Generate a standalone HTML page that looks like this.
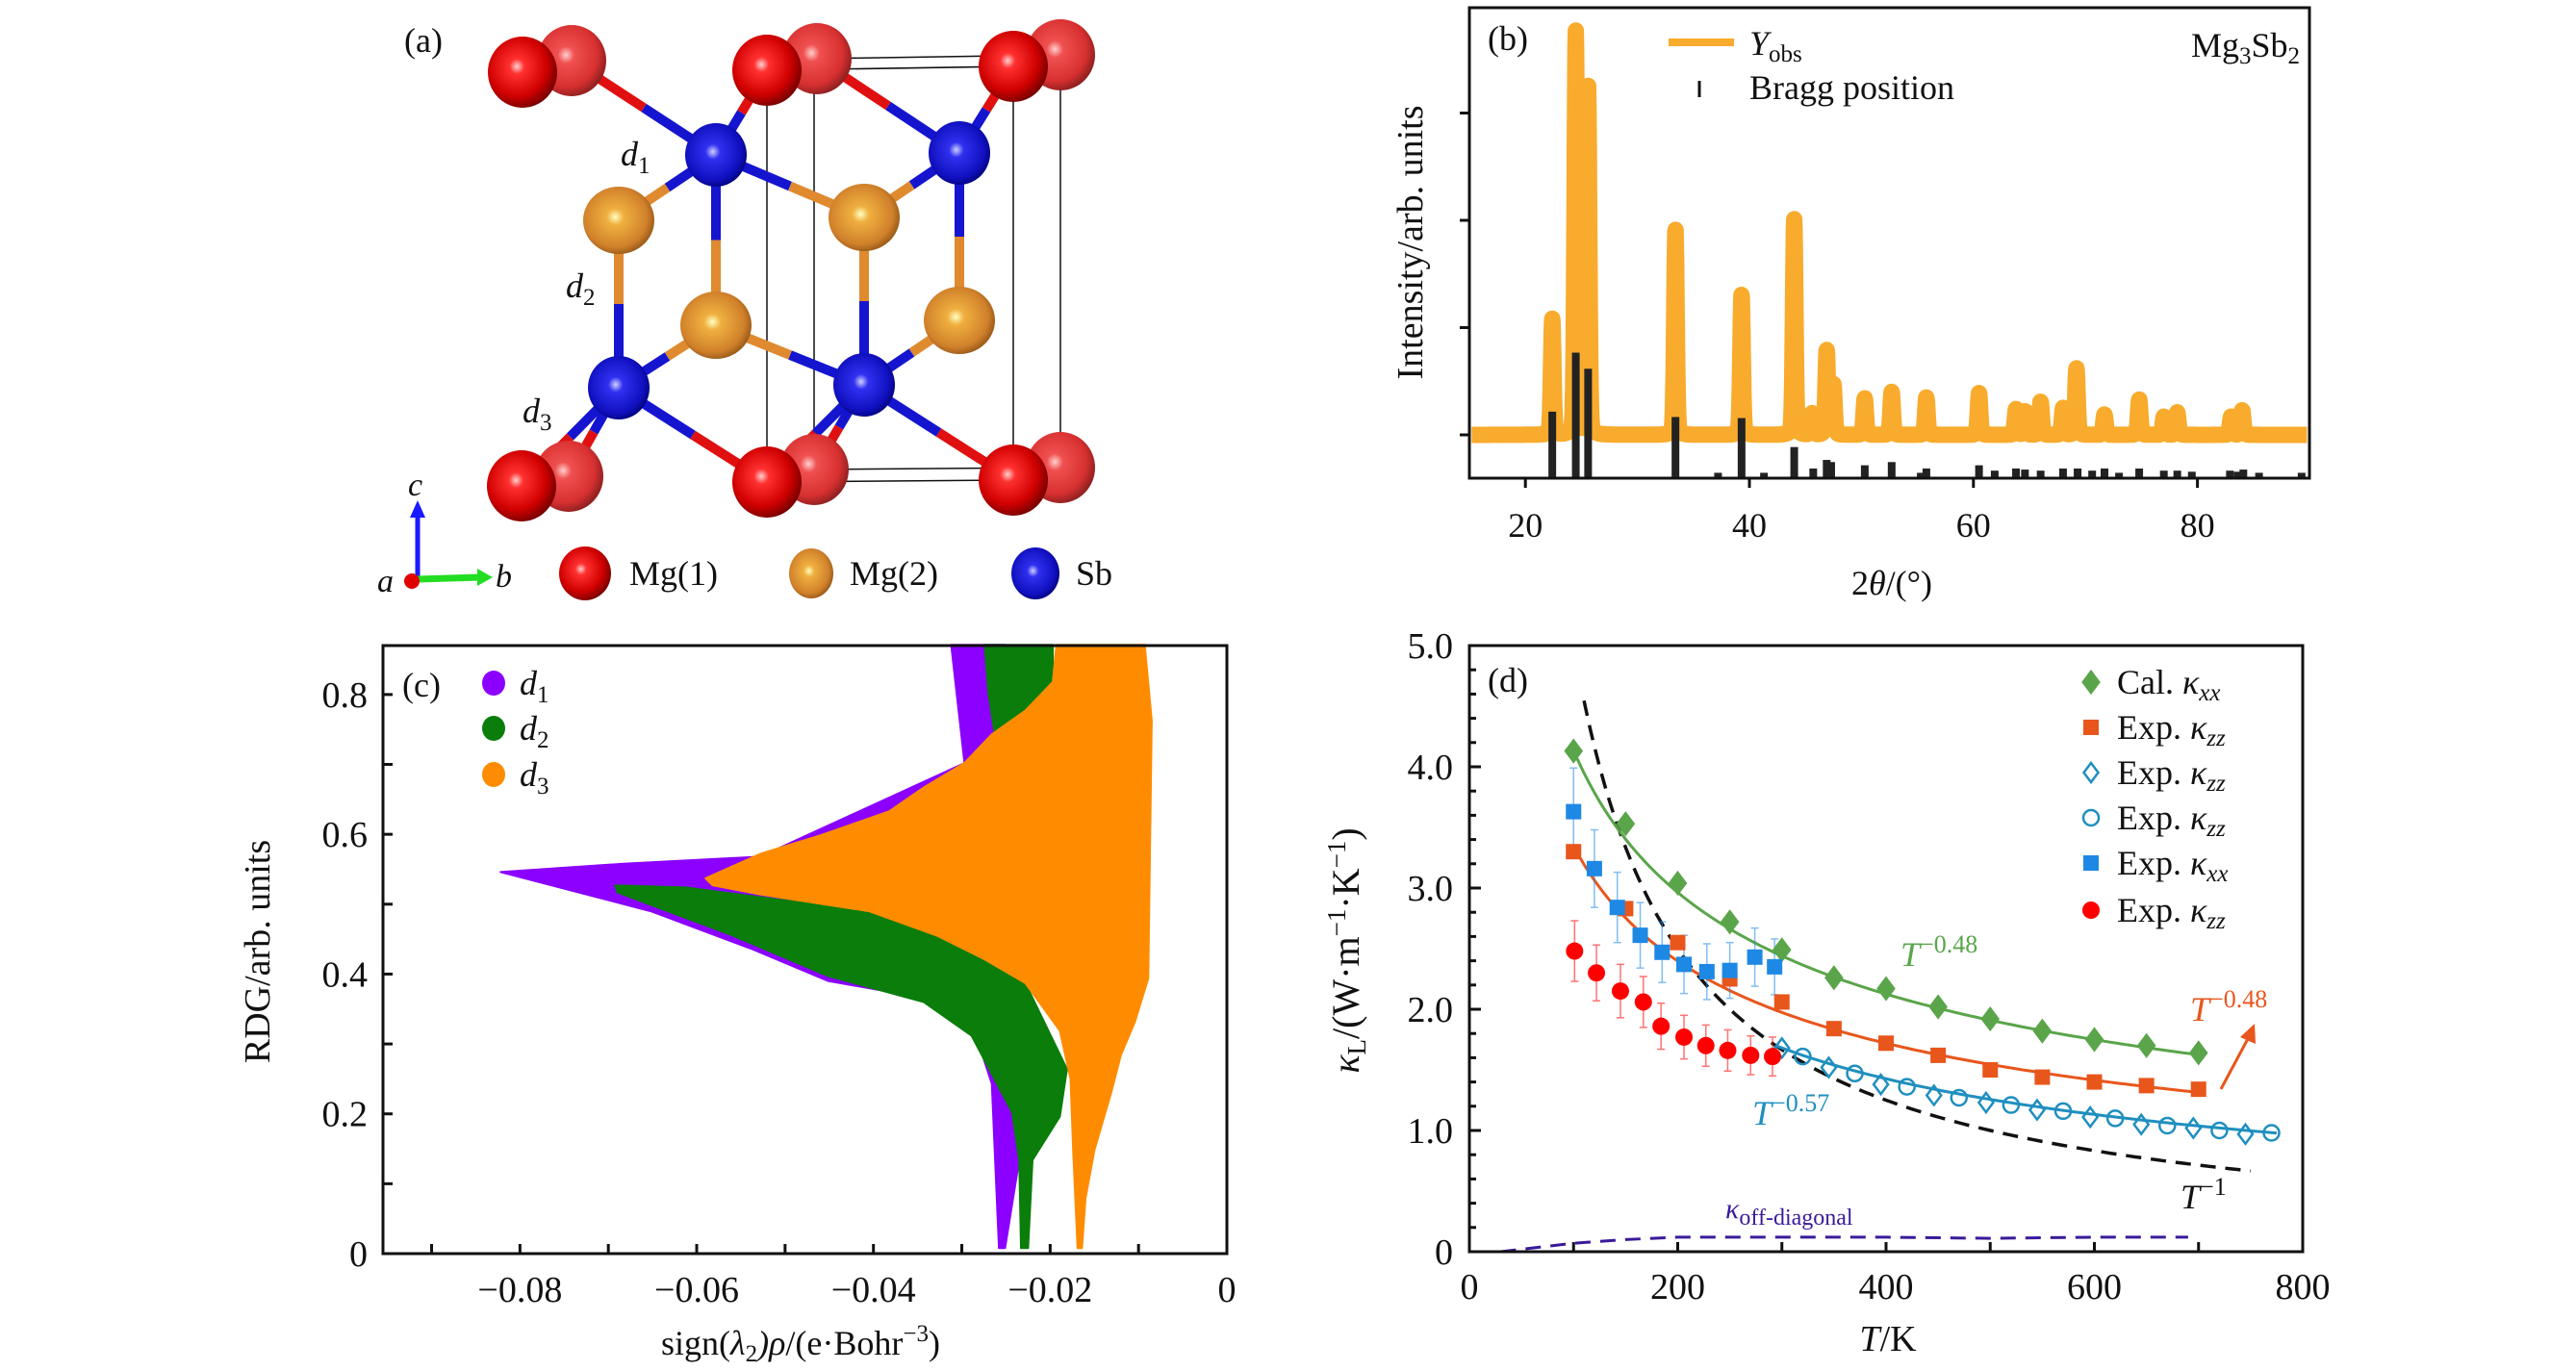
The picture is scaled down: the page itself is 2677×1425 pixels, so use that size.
<!DOCTYPE html>
<html><head><meta charset="utf-8"><style>
html,body{margin:0;padding:0;background:#fff}
svg{display:block}
text{font-family:"Liberation Serif","DejaVu Serif",serif;fill:#111}
.it{font-style:italic}
</style></head><body>
<svg id="fig" width="2677" height="1425" viewBox="0 0 2677 1425" xmlns="http://www.w3.org/2000/svg">
<defs>
<radialGradient id="gRed" cx="0.42" cy="0.42" r="0.6"><stop offset="0" stop-color="#ffd0d0"/><stop offset="0.18" stop-color="#ff3030"/><stop offset="0.7" stop-color="#d00000"/><stop offset="1" stop-color="#7a0000"/></radialGradient>
<radialGradient id="gRedB" cx="0.42" cy="0.42" r="0.6"><stop offset="0" stop-color="#ffd0d0"/><stop offset="0.2" stop-color="#f05050"/><stop offset="0.75" stop-color="#d83030"/><stop offset="1" stop-color="#902020"/></radialGradient>
<radialGradient id="gOr" cx="0.45" cy="0.45" r="0.6"><stop offset="0" stop-color="#ffffc0"/><stop offset="0.2" stop-color="#f0b040"/><stop offset="0.75" stop-color="#d0802a"/><stop offset="1" stop-color="#8a5015"/></radialGradient>
<radialGradient id="gBl" cx="0.45" cy="0.45" r="0.6"><stop offset="0" stop-color="#d0d0ff"/><stop offset="0.2" stop-color="#3030f0"/><stop offset="0.75" stop-color="#1010c0"/><stop offset="1" stop-color="#000070"/></radialGradient>
</defs>

<g id="panelA">
  <g id="cell" stroke="#111" stroke-width="1.5" fill="none">
    <line x1="797" y1="73" x2="797" y2="501"/><line x1="846" y1="61" x2="846" y2="488"/>
    <line x1="1053" y1="69" x2="1053" y2="499"/><line x1="1102" y1="57" x2="1102" y2="486"/>
    <line x1="797" y1="73" x2="1053" y2="69"/><line x1="846" y1="61" x2="1102" y2="57"/>
    <line x1="797" y1="501" x2="1053" y2="499"/><line x1="846" y1="488" x2="1102" y2="486"/>
  </g>
  <g id="bonds"></g>
  <g id="atoms"></g>
  <text x="420" y="54" font-size="36">(a)</text>
  <text x="645" y="172" font-size="36" class="it">d<tspan font-size="25" dy="8" font-style="normal">1</tspan></text>
  <text x="588" y="309" font-size="36" class="it">d<tspan font-size="25" dy="8" font-style="normal">2</tspan></text>
  <text x="543" y="439" font-size="36" class="it">d<tspan font-size="25" dy="8" font-style="normal">3</tspan></text>
  <g>
    <line x1="434" y1="602" x2="434" y2="532" stroke="#1a1aff" stroke-width="5"/>
    <polygon points="434,520 426,538 442,538" fill="#1a1aff"/>
    <line x1="434" y1="602" x2="500" y2="600" stroke="#22dd22" stroke-width="7"/>
    <polygon points="512,600 496,591 496,609" fill="#22dd22"/>
    <circle cx="428" cy="604" r="8" fill="#e00000"/>
    <text x="424" y="515" font-size="34" class="it">c</text>
    <text x="515" y="610" font-size="34" class="it">b</text>
    <text x="392" y="615" font-size="34" class="it">a</text>
  </g>
  <g>
    <ellipse cx="608" cy="596" rx="27" ry="28" fill="url(#gRed)"/>
    <text x="654" y="608" font-size="36">Mg(1)</text>
    <ellipse cx="843" cy="596" rx="23" ry="26" fill="url(#gOr)"/>
    <text x="883" y="608" font-size="36">Mg(2)</text>
    <ellipse cx="1076" cy="596" rx="25" ry="27" fill="url(#gBl)"/>
    <text x="1118" y="608" font-size="36">Sb</text>
  </g>
</g>

<g id="panelB">
  <g id="bPlot"></g>
  <rect x="1527" y="8" width="873" height="489" fill="none" stroke="#111" stroke-width="3"/>
  <text x="1546" y="52" font-size="36">(b)</text>
  <line x1="1734" y1="44" x2="1802" y2="44" stroke="#f8ab2c" stroke-width="8"/>
  <text x="1818" y="57" font-size="36"><tspan class="it">Y</tspan><tspan font-size="25" dy="7">obs</tspan></text>
  <line x1="1766" y1="84" x2="1766" y2="101" stroke="#111" stroke-width="3"/>
  <text x="1818" y="103" font-size="36">Bragg position</text>
  <text x="2390" y="59" font-size="36" text-anchor="end">Mg<tspan font-size="25" dy="7">3</tspan><tspan dy="-7">Sb</tspan><tspan font-size="25" dy="7">2</tspan></text>
  <text transform="translate(1478,252) rotate(-90)" font-size="38" text-anchor="middle">Intensity/arb. units</text>
  <text x="1966" y="618" font-size="36" text-anchor="middle">2<tspan class="it">θ</tspan>/(°)</text>
</g>

<g id="panelC">
  <g id="cPlot"></g>
  <rect x="398" y="671" width="877" height="632" fill="none" stroke="#111" stroke-width="3"/>
  <text x="418" y="724" font-size="36">(c)</text>
  <g>
    <ellipse cx="513" cy="710" rx="12" ry="13" fill="#8b00ff"/><text x="540" y="722" font-size="36" class="it">d<tspan font-size="25" dy="8" font-style="normal">1</tspan></text>
    <ellipse cx="513" cy="757" rx="12" ry="13" fill="#0a7d0a"/><text x="540" y="769" font-size="36" class="it">d<tspan font-size="25" dy="8" font-style="normal">2</tspan></text>
    <ellipse cx="513" cy="805" rx="12" ry="13" fill="#ff8c00"/><text x="540" y="817" font-size="36" class="it">d<tspan font-size="25" dy="8" font-style="normal">3</tspan></text>
  </g>
  <text transform="translate(280,989) rotate(-90)" font-size="38" text-anchor="middle">RDG/arb. units</text>
  <text x="832" y="1408" font-size="36" text-anchor="middle">sign(<tspan class="it">λ</tspan><tspan font-size="25" dy="7">2</tspan><tspan dy="-7" class="it">)ρ</tspan>/(e·Bohr<tspan font-size="25" dy="-14">−3</tspan><tspan dy="14">)</tspan></text>
</g>

<g id="panelD">
  <g id="dPlot"></g>
  <rect x="1527" y="671" width="866" height="630" fill="none" stroke="#111" stroke-width="3"/>
  <text x="1546" y="719" font-size="36">(d)</text>
  <text transform="translate(1412,988) rotate(-90)" font-size="40" text-anchor="middle"><tspan class="it">κ</tspan><tspan font-size="27" dy="7">L</tspan><tspan dy="-7">/(W·m</tspan><tspan font-size="27" dy="-14">−1</tspan><tspan dy="14">·K</tspan><tspan font-size="27" dy="-14">−1</tspan><tspan dy="14">)</tspan></text>
  <text x="1962" y="1404" font-size="38" text-anchor="middle"><tspan class="it">T</tspan>/K</text>
  <text x="1975" y="1004" font-size="36" style="fill:#5aa54a"><tspan class="it">T</tspan><tspan font-size="26" dy="-14">−0.48</tspan></text>
  <text x="2276" y="1061" font-size="36" style="fill:#e8561c"><tspan class="it">T</tspan><tspan font-size="26" dy="-14">−0.48</tspan></text>
  <line x1="2308" y1="1132" x2="2338" y2="1076" stroke="#e8561c" stroke-width="3"/>
  <polygon points="2343,1064 2328,1078 2344,1085" fill="#e8561c"/>
  <text x="1821" y="1169" font-size="36" style="fill:#1f8fbf"><tspan class="it">T</tspan><tspan font-size="26" dy="-14">−0.57</tspan></text>
  <text x="2266" y="1256" font-size="36"><tspan class="it">T</tspan><tspan font-size="26" dy="-14">−1</tspan></text>
  <text x="1793" y="1266" font-size="30" style="fill:#3a1a9a"><tspan class="it">κ</tspan><tspan font-size="24" dy="7">off-diagonal</tspan></text>
  <g id="dLegend"></g>
</g>
</svg>

<script>
// ---------- Panel (b) data ----------
const xrdPeakPos = [22.4,24.5,25.6,33.4,39.3,44.0,45.6,46.9,47.5,50.3,52.7,55.8,60.5,63.8,64.6,66.0,68.0,69.2,71.7,74.8,77.0,78.2,83.0,84.0];
const xrdPeakInt = [1.08,3.76,3.26,1.92,1.31,2.01,0.20,0.79,0.47,0.34,0.40,0.35,0.39,0.24,0.22,0.31,0.25,0.62,0.19,0.33,0.17,0.21,0.17,0.23];
const braggPos = [22.4,24.5,25.6,33.4,37.2,39.3,41.3,44.0,45.7,46.9,47.3,50.3,52.7,55.3,55.8,60.5,61.9,63.8,64.6,66.0,68.0,69.3,70.6,71.7,73.0,74.8,77.0,78.2,79.5,82.9,83.6,84.1,85.5,89.3];
const braggH = [0.62,1.17,1.02,0.57,0.05,0.56,0.05,0.29,0.09,0.17,0.15,0.12,0.15,0.05,0.09,0.12,0.07,0.09,0.08,0.07,0.09,0.09,0.07,0.09,0.05,0.09,0.07,0.07,0.06,0.07,0.06,0.08,0.05,0.05];
const xrdXTicks = [20,40,60,80];
const xrdYTicks = [0,1,2,3];

// ---------- Panel (c) data ----------
const rdgD1 = [[-0.0822,0.546],[-0.0683,0.558],[-0.0528,0.568],[-0.0297,0.702],[-0.0312,0.871],[-0.0251,0.871],[-0.0228,0.558],[-0.0235,0.134],[-0.0251,0.008],[-0.0258,0.008],[-0.0266,0.243],[-0.0282,0.305],[-0.0312,0.353],[-0.0374,0.373],[-0.0451,0.390],[-0.0536,0.435],[-0.0652,0.490]];
const rdgD2 = [[-0.0692,0.527],[-0.0613,0.524],[-0.0405,0.490],[-0.0305,0.455],[-0.0228,0.387],[-0.0181,0.264],[-0.0189,0.196],[-0.0220,0.134],[-0.0225,0.008],[-0.0233,0.008],[-0.0235,0.134],[-0.0243,0.202],[-0.0266,0.257],[-0.0289,0.312],[-0.0343,0.360],[-0.0451,0.397],[-0.0559,0.455],[-0.0690,0.517]];
const rdgD2Top = [[-0.0274,0.871],[-0.0197,0.871],[-0.0197,0.811],[-0.0243,0.749],[-0.0262,0.736],[-0.0270,0.804]];
const rdgD3 = [[-0.0590,0.537],[-0.0528,0.572],[-0.0459,0.599],[-0.0382,0.633],[-0.0343,0.667],[-0.0297,0.702],[-0.0266,0.743],[-0.0228,0.777],[-0.0197,0.818],[-0.0193,0.871],[-0.0093,0.871],[-0.0085,0.763],[-0.0089,0.394],[-0.0104,0.332],[-0.0120,0.284],[-0.0131,0.230],[-0.0150,0.148],[-0.0160,0.079],[-0.0164,0.008],[-0.0169,0.008],[-0.0174,0.148],[-0.0177,0.250],[-0.0189,0.319],[-0.0228,0.387],[-0.0274,0.421],[-0.0328,0.455],[-0.0405,0.490],[-0.0528,0.514],[-0.0582,0.527]];
const rdgXTickLabels = ["−0.08","−0.06","−0.04","−0.02","0"];
const rdgXTickVals = [-0.08,-0.06,-0.04,-0.02,0];
const rdgYTickLabels = ["0","0.2","0.4","0.6","0.8"];
const rdgYTickVals = [0,0.2,0.4,0.6,0.8];

// ---------- Panel (d) data ----------
const calT = [100,150,200,250,300,350,400,450,500,550,600,650,700];
const calKxx = [4.13,3.53,3.04,2.72,2.49,2.26,2.17,2.02,1.92,1.82,1.75,1.70,1.64];
const expZzT = [100,150,200,250,300,350,400,450,500,550,600,650,700];
const expKzz = [3.30,2.83,2.55,2.25,2.06,1.84,1.72,1.62,1.50,1.44,1.40,1.37,1.34];
const diaT = [300,345,395,446,496,545,596,645,695,745];
const diaK = [1.68,1.52,1.38,1.29,1.23,1.17,1.11,1.05,1.02,0.97];
const circT = [320,370,420,470,520,570,620,670,720,770];
const circK = [1.61,1.47,1.36,1.27,1.21,1.16,1.10,1.04,1.00,0.98];
const sqT = [100,120,142,164,185,206,228,250,274,293];
const sqK = [3.63,3.16,2.84,2.61,2.47,2.37,2.31,2.32,2.43,2.35];
const sqErr = [0.36,0.32,0.29,0.27,0.25,0.24,0.23,0.23,0.24,0.23];
const redT = [101,122,145,167,184,206,227,248,270,291];
const redK = [2.48,2.30,2.15,2.06,1.86,1.77,1.70,1.66,1.62,1.61];
const redErr = [0.25,0.23,0.22,0.21,0.19,0.18,0.17,0.17,0.16,0.16];
const fitGreen = {A:37.7, p:-0.48, t0:100, t1:700};
const fitOrange = {A:30.5, p:-0.48, t0:100, t1:700};
const fitBlue = {A:43.4, p:-0.57, t0:295, t1:775};
const fitInv = {A:500, p:-1, t0:110, t1:750};
const offT = [30,100,150,200,300,400,500,600,690];
const offK = [0,0.07,0.10,0.12,0.12,0.12,0.11,0.12,0.12];
const kXTicks = [0,200,400,600,800];
const kYTicks = [0,1,2,3,4,5];
const kYTickLabels = ["0","1.0","2.0","3.0","4.0","5.0"];

const NS = "http://www.w3.org/2000/svg";
function mk(tag, attrs, parent){
  const e = document.createElementNS(NS, tag);
  for (const k in attrs) e.setAttribute(k, attrs[k]);
  parent.appendChild(e);
  return e;
}

// ---------- Panel (a) atoms ----------
(function(){
  const atoms = {
    r1b:[594,63,'r',1], r1:[543,75,'r',0], r2b:[849,61,'r',1], r2:[797,73,'r',0], r3b:[1102,57,'r',1], r3:[1053,69,'r',0],
    r4b:[591,495,'r',1], r4:[542,505,'r',0], r5b:[846,488,'r',1], r5:[797,501,'r',0], r6b:[1102,486,'r',1], r6:[1053,499,'r',0],
    s1:[744,161,'b'], s2:[997,159,'b'], s3:[643,403,'b'], s4:[898,400,'b'],
    o1:[643,229,'o'], o2:[898,226,'o'], o3:[744,338,'o'], o4:[997,333,'o']
  };
  const bonds = [['s1','r1b'],['s1','r2'],['s1','o1'],['s1','o2'],['s1','o3'],['s2','r2b'],['s2','r3'],['s2','o2'],['s2','o4'],
    ['o1','s3'],['o2','s4'],['s3','o3'],['s3','r4b'],['s3','r4'],['s3','r5'],['s4','o3'],['s4','o4'],['s4','r5b'],['s4','r5'],['s4','r6']];
  const col = {r:'#e01010', b:'#1515d0', o:'#e08a30'};
  const bg = document.getElementById('bonds');
  bonds.forEach(([a,b])=>{
    const A=atoms[a], B=atoms[b]; const mx=(A[0]+B[0])/2, my=(A[1]+B[1])/2;
    const l1 = mk('line',{x1:A[0],y1:A[1],x2:mx,y2:my,stroke:col[A[2]],'stroke-width':10},bg);
    
    
    const l2 = mk('line',{x1:mx,y1:my,x2:B[0],y2:B[1],stroke:col[B[2]],'stroke-width':10},bg);
    
    
  });
  const ag = document.getElementById('atoms');
  const order = ['r1b','r2b','r3b','r4b','r5b','r6b','o3','o4','s3','s4','o1','o2','s1','s2','r1','r2','r3','r4','r5','r6'];
  order.forEach(k=>{
    const A=atoms[k];
    let fill, rx, ry, nm;
    if (A[2]==='r'){ fill = A[3]?'url(#gRedB)':'url(#gRed)'; rx=36; ry=37; nm='mg1-atom'; }
    else if (A[2]==='o'){ fill='url(#gOr)'; rx=37; ry=35; nm='mg2-atom'; }
    else { fill='url(#gBl)'; rx=32; ry=33; nm='sb-atom'; }
    const e = mk('ellipse',{cx:A[0],cy:A[1],rx:rx,ry:ry,fill:fill},ag);
    
    
  });
})();

// ---------- Panel (b) ----------
(function(){
  const g = document.getElementById('bPlot');
  const X = a => 1527 + (a-15)/75*873;
  const Y = i => 452 - i*111.5;
  const YB = h => 497 - h*111.5;
  let d = '';
  for (let a=15.2; a<=89.8; a+=0.03){
    let s = 0;
    for (let k=0;k<xrdPeakPos.length;k++){
      const dx=a-xrdPeakPos[k];
      const gs=Math.exp(-dx*dx/(2*0.11*0.11));
      const u=dx/0.12;
      s += xrdPeakInt[k]*(0.8*gs + 0.2/(1+u*u));
    }
    d += (d?'L':'M') + X(a).toFixed(1) + ' ' + Y(s).toFixed(1);
  }
  const p = mk('path',{d:d,fill:'none',stroke:'#f8ab2c','stroke-width':17,'stroke-linejoin':'round'},g);
  
  
  braggPos.forEach((a,k)=>{
    const r = mk('rect',{x:X(a)-4,y:YB(braggH[k]),width:8,height:497-YB(braggH[k]),fill:'#222'},g);
    
    
  });
  xrdXTicks.forEach(v=>{
    const t = mk('line',{x1:X(v),y1:497,x2:X(v),y2:507,stroke:'#111','stroke-width':3},g);
    
    
    const tx = mk('text',{x:X(v),y:558,'font-size':36,'text-anchor':'middle'},g);
    tx.textContent = String(v);
    
    
  });
  xrdYTicks.forEach(v=>{
    const t = mk('line',{x1:1517,y1:Y(v),x2:1527,y2:Y(v),stroke:'#111','stroke-width':3},g);
    
    
  });
})();

// ---------- Panel (c) ----------
(function(){
  const g = document.getElementById('cPlot');
  const X = v => 1275 + v*9183;
  const Y = v => 1303 - v*726.4;
  const poly = (pts, fill, nm) => {
    const e = mk('polygon',{points:pts.map(p=>X(p[0]).toFixed(1)+','+Y(p[1]).toFixed(1)).join(' '),fill:fill,stroke:fill,'stroke-width':2,'stroke-linejoin':'round'},g);
    
    
  };
  poly(rdgD1,'#8b00ff','d1-region');
  poly(rdgD2,'#0a7d0a','d2-region');
  poly(rdgD2Top,'#0a7d0a','d2-region-top');
  poly(rdgD3,'#ff8c00','d3-region');
  for (let k=-9;k<=-1;k++){
    const v=k*0.01;
    const t = mk('line',{x1:X(v),y1:1303,x2:X(v),y2:1293,stroke:'#111','stroke-width':3},g);
    
    
  }
  for (let k=1;k<=8;k++){
    const v=k*0.1;
    const t = mk('line',{x1:398,y1:Y(v),x2:408,y2:Y(v),stroke:'#111','stroke-width':3},g);
    
    
  }
  rdgXTickVals.forEach((v,i)=>{
    const tx = mk('text',{x:X(v),y:1353,'font-size':38,'text-anchor':'middle'},g);
    tx.textContent = rdgXTickLabels[i];
    
    
  });
  rdgYTickVals.forEach((v,i)=>{
    const tx = mk('text',{x:382,y:Y(v)+13,'font-size':38,'text-anchor':'end'},g);
    tx.textContent = rdgYTickLabels[i];
    
    
  });
})();

// ---------- Panel (d) ----------
(function(){
  const g = document.getElementById('dPlot');
  const X = t => 1527 + t/800*866;
  const Y = v => 1301 - v/5*630;
  const GREEN='#5aa54a', ORANGE='#e8561c', SQBLUE='#1e88e5', CYAN='#1f8fbf', RED='#ff0000';
  for (let t=100;t<800;t+=100){
    const l = mk('line',{x1:X(t),y1:1301,x2:X(t),y2:1291,stroke:'#111','stroke-width':3},g);
    
    
  }
  for (let k=1;k<25;k++){
    const v=k*0.2;
    const major = (k%5===0);
    const l = mk('line',{x1:1527,y1:Y(v),x2:1527+(major?12:7),y2:Y(v),stroke:'#111','stroke-width':3},g);
    
    
  }
  kXTicks.forEach(v=>{
    const tx = mk('text',{x:X(v),y:1350,'font-size':38,'text-anchor':'middle'},g);
    tx.textContent = String(v);
    
    
  });
  kYTicks.forEach((v,i)=>{
    const tx = mk('text',{x:1510,y:Y(v)+13,'font-size':38,'text-anchor':'end'},g);
    tx.textContent = kYTickLabels[i];
    
    
  });
  const fitPath = (f) => { let d=''; for (let t=f.t0;t<=f.t1+0.01;t+=5){ d+=(d?'L':'M')+X(t).toFixed(1)+' '+Y(f.A*Math.pow(t,f.p)).toFixed(1);} return d; };
  let e;
  e = mk('path',{d:fitPath(fitInv),fill:'none',stroke:'#111','stroke-width':3.5,'stroke-dasharray':'16 10'},g);
  
  
  e = mk('path',{d:fitPath(fitGreen),fill:'none',stroke:GREEN,'stroke-width':3},g);
  
  
  e = mk('path',{d:fitPath(fitOrange),fill:'none',stroke:ORANGE,'stroke-width':3},g);
  
  
  e = mk('path',{d:fitPath(fitBlue),fill:'none',stroke:CYAN,'stroke-width':3},g);
  
  
  let od=''; offT.forEach((t,i)=>{ od+=(od?'L':'M')+X(t).toFixed(1)+' '+Y(offK[i]).toFixed(1); });
  e = mk('path',{d:od,fill:'none',stroke:'#3a1a9a','stroke-width':3,'stroke-dasharray':'16 10'},g);
  
  
  const errbar = (t,v,er,color,nm)=>{
    const gg = mk('g',{stroke:color,'stroke-width':1.5,opacity:0.55},g);
    
    
    mk('line',{x1:X(t),y1:Y(v-er),x2:X(t),y2:Y(v+er)},gg);
    mk('line',{x1:X(t)-4,y1:Y(v-er),x2:X(t)+4,y2:Y(v-er)},gg);
    mk('line',{x1:X(t)-4,y1:Y(v+er),x2:X(t)+4,y2:Y(v+er)},gg);
  };
  sqT.forEach((t,i)=>errbar(t,sqK[i],sqErr[i],SQBLUE,'exp-kxx-error-bar'));
  redT.forEach((t,i)=>errbar(t,redK[i],redErr[i],RED,'exp-kzz-red-error-bar'));
  const diamond = (cx,cy,s,fill,stroke,parent)=> mk('polygon',{points:`${cx},${cy-s} ${cx+s*0.75},${cy} ${cx},${cy+s} ${cx-s*0.75},${cy}`,fill:fill,stroke:stroke,'stroke-width':2.5},parent);
  calT.forEach((t,i)=>{ const m=diamond(X(t),Y(calKxx[i]),11,GREEN,GREEN,g);
    
     });
  expZzT.forEach((t,i)=>{ const m=mk('rect',{x:X(t)-8,y:Y(expKzz[i])-8,width:16,height:16,fill:ORANGE},g);
    
     });
  diaT.forEach((t,i)=>{ const m=diamond(X(t),Y(diaK[i]),10,'none',CYAN,g);
    
     });
  circT.forEach((t,i)=>{ const m=mk('ellipse',{cx:X(t),cy:Y(circK[i]),rx:8,ry:8,fill:'none',stroke:CYAN,'stroke-width':2.5},g);
    
     });
  sqT.forEach((t,i)=>{ const m=mk('rect',{x:X(t)-8,y:Y(sqK[i])-8,width:16,height:16,fill:SQBLUE},g);
    
     });
  redT.forEach((t,i)=>{ const m=mk('ellipse',{cx:X(t),cy:Y(redK[i]),rx:9,ry:9,fill:RED},g);
    
     });
  const lg = document.getElementById('dLegend');
  const rows = [709,756,803,850,897,946];
  const labs = [['Cal. ','xx'],['Exp. ','zz'],['Exp. ','zz'],['Exp. ','zz'],['Exp. ','xx'],['Exp. ','zz']];
  let m;
  m = diamond(2173,rows[0],11,GREEN,GREEN,lg);
  
  
  m = mk('rect',{x:2165,y:rows[1]-8,width:16,height:16,fill:ORANGE},lg);
  
  
  m = diamond(2173,rows[2],10,'none',CYAN,lg);
  
  
  m = mk('ellipse',{cx:2173,cy:rows[3],rx:8,ry:8,fill:'none',stroke:CYAN,'stroke-width':2.5},lg);
  
  
  m = mk('rect',{x:2165,y:rows[4]-8,width:16,height:16,fill:SQBLUE},lg);
  
  
  m = mk('ellipse',{cx:2173,cy:rows[5],rx:9,ry:9,fill:RED},lg);
  
  
  rows.forEach((y,i)=>{
    const tx = mk('text',{x:2200,y:y+12,'font-size':36},lg);
    
    
    const a = document.createElementNS(NS,'tspan'); a.textContent = labs[i][0]; tx.appendChild(a);
    const b = document.createElementNS(NS,'tspan'); b.textContent = 'κ'; b.setAttribute('font-style','italic'); tx.appendChild(b);
    const c = document.createElementNS(NS,'tspan'); c.textContent = labs[i][1]; c.setAttribute('font-style','italic'); c.setAttribute('font-size','25'); c.setAttribute('dy','7'); tx.appendChild(c);
  });
})();
</script>
</body></html>
